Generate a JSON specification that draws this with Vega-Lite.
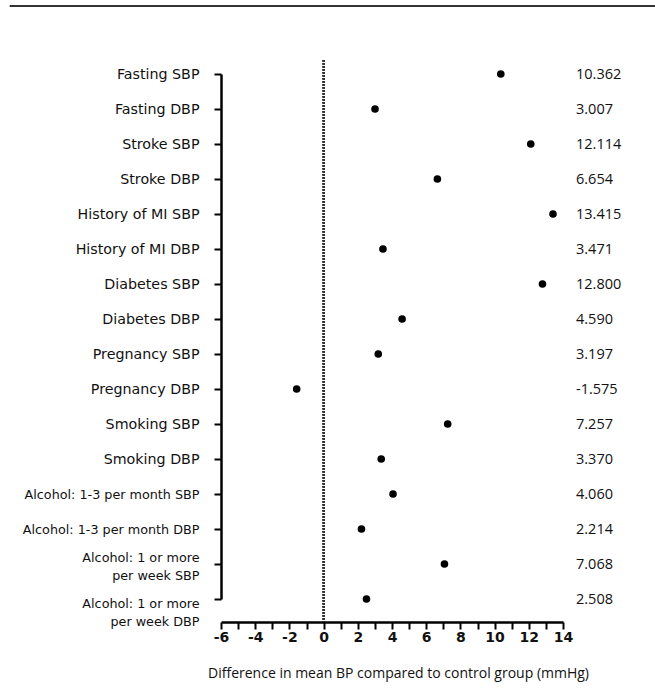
{
  "$schema": "https://vega.github.io/schema/vega-lite/v6.json",
  "autosize": {"type": "none"},
  "width": 342,
  "height": 562,
  "padding": {"left": 221, "top": 60, "right": 92, "bottom": 66},
  "background": "white",
  "config": {
    "view": {"stroke": null},
    "font": "DejaVu Sans",
    "axisX": {"labelOverlap": false},
    "locale": {
      "number": {"decimal": ".", "thousands": ",", "grouping": [3], "currency": ["$", ""], "minus": "-"}
    }
  },
  "data": {
    "values": [
      {"label": "Fasting SBP", "value": 10.362},
      {"label": "Fasting DBP", "value": 3.007},
      {"label": "Stroke SBP", "value": 12.114},
      {"label": "Stroke DBP", "value": 6.654},
      {"label": "History of MI SBP", "value": 13.415},
      {"label": "History of MI DBP", "value": 3.471},
      {"label": "Diabetes SBP", "value": 12.8},
      {"label": "Diabetes DBP", "value": 4.59},
      {"label": "Pregnancy SBP", "value": 3.197},
      {"label": "Pregnancy DBP", "value": -1.575},
      {"label": "Smoking SBP", "value": 7.257},
      {"label": "Smoking DBP", "value": 3.37},
      {"label": "Alcohol: 1-3 per month SBP", "value": 4.06},
      {"label": "Alcohol: 1-3 per month DBP", "value": 2.214},
      {"label": "Alcohol: 1 or more|per week SBP", "value": 7.068},
      {"label": "Alcohol: 1 or more|per week DBP", "value": 2.508}
    ]
  },
  "encoding": {
    "y": {
      "field": "label",
      "type": "nominal",
      "sort": null,
      "scale": {"type": "point", "range": [14, 539], "padding": 0},
      "axis": {
        "title": null,
        "domainWidth": 2.5,
        "domainColor": "black",
        "tickColor": "black",
        "tickWidth": 2,
        "tickSize": 7,
        "labelPadding": 15,
        "labelColor": "#111",
        "labelFont": "DejaVu Sans",
        "labelFontSize": {"condition": {"test": "indexof(datum.value, 'Alcohol') >= 0", "value": 12.75}, "value": 14.25},
        "labelOffset": {
          "condition": [
            {"test": "datum.value == 'Alcohol: 1 or more|per week SBP'", "value": -7},
            {"test": "datum.value == 'Alcohol: 1 or more|per week DBP'", "value": 4}
          ],
          "value": 0
        },
        "labelLineHeight": 18.5,
        "labelExpr": "split(datum.label, '|')",
        "labelLimit": 260
      }
    }
  },
  "layer": [
    {
      "mark": {"type": "circle", "color": "black", "opacity": 1, "size": 58},
      "encoding": {
        "x": {
          "field": "value",
          "type": "quantitative",
          "scale": {"domain": [-6, 14], "nice": false, "zero": false},
          "axis": {
            "title": "Difference in mean BP compared to control group (mmHg)",
            "titleFont": "Open Sans",
            "titleFontSize": 14,
            "titleFontWeight": "normal",
            "titleColor": "#111",
            "titlePadding": 22,
            "titleX": 177,
            "values": [-6, -5, -4, -3, -2, -1, 0, 1, 2, 3, 4, 5, 6, 7, 8, 9, 10, 11, 12, 13, 14],
            "labelExpr": "datum.value % 2 == 0 ? '' + datum.value : ''",
            "labelOverlap": false,
            "grid": false,
            "domainWidth": 2.5,
            "domainColor": "black",
            "tickColor": "black",
            "tickWidth": 2,
            "tickSize": 7,
            "labelPadding": 1,
            "labelFont": "DejaVu Sans",
            "labelFontSize": 14,
            "labelFontWeight": "bold",
            "labelColor": "#111",
            "labelFlush": false
          }
        }
      }
    },
    {
      "mark": {"type": "rule", "color": "#333", "strokeWidth": 2},
      "encoding": {
        "x": {
          "datum": -18.34,
          "type": "quantitative",
          "axis": {
            "values": [-6, -5, -4, -3, -2, -1, 0, 1, 2, 3, 4, 5, 6, 7, 8, 9, 10, 11, 12, 13, 14],
            "labelExpr": "datum.value % 2 == 0 ? '' + datum.value : ''",
            "labelOverlap": false
          }
        },
        "x2": {"datum": 19.4},
        "y": {"value": -54}
      }
    },
    {
      "mark": {"type": "rule", "color": "#333", "strokeWidth": 1.5, "strokeDash": [1.5, 1.5]},
      "encoding": {
        "x": {
          "datum": 0,
          "type": "quantitative",
          "axis": {
            "values": [-6, -5, -4, -3, -2, -1, 0, 1, 2, 3, 4, 5, 6, 7, 8, 9, 10, 11, 12, 13, 14],
            "labelExpr": "datum.value % 2 == 0 ? '' + datum.value : ''",
            "labelOverlap": false
          }
        },
        "y": {"value": 0},
        "y2": {"value": 562}
      }
    },
    {
      "mark": {"type": "text", "align": "left", "baseline": "middle", "fontSize": 14.5, "font": "Open Sans", "color": "#111", "dy": 1},
      "encoding": {
        "x": {
          "datum": 14.76,
          "type": "quantitative",
          "axis": {
            "values": [-6, -5, -4, -3, -2, -1, 0, 1, 2, 3, 4, 5, 6, 7, 8, 9, 10, 11, 12, 13, 14],
            "labelExpr": "datum.value % 2 == 0 ? '' + datum.value : ''",
            "labelOverlap": false
          }
        },
        "text": {"field": "value", "type": "quantitative", "format": ".3f"}
      }
    }
  ]
}
